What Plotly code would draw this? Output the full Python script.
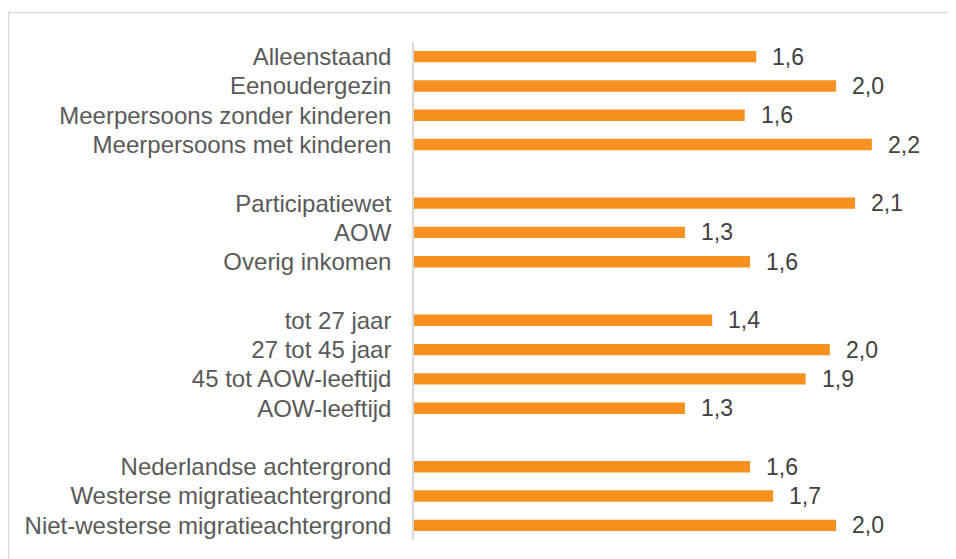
import plotly.graph_objects as go

# Data, grouped as in the picture
groups = [
    ["Alleenstaand", "Eenoudergezin", "Meerpersoons zonder kinderen", "Meerpersoons met kinderen"],
    ["Participatiewet", "AOW", "Overig inkomen"],
    ["tot 27 jaar", "27 tot 45 jaar", "45 tot AOW-leeftijd", "AOW-leeftijd"],
    ["Nederlandse achtergrond", "Westerse migratieachtergrond", "Niet-westerse migratieachtergrond"],
]
group_values = [
    [1.63, 2.01, 1.575, 2.18],
    [2.10, 1.29, 1.60],
    [1.42, 1.98, 1.865, 1.29],
    [1.60, 1.71, 2.01],
]

# Build positions: one empty slot between groups
categories, values, positions = [], [], []
pos = 0
for gi, (cats, vals) in enumerate(zip(groups, group_values)):
    if gi > 0:
        pos += 1
    for c, v in zip(cats, vals):
        categories.append(c)
        values.append(v)
        positions.append(pos)
        pos += 1
n_slots = pos

ORANGE = "#F7901E"
FONT = "Liberation Sans, Arial, sans-serif"

fig = go.Figure()
fig.add_trace(go.Bar(
    x=values, y=positions, orientation="h",
    marker=dict(color=ORANGE, line=dict(width=0)),
    width=0.39, hoverinfo="skip",
))

for v, p in zip(values, positions):
    fig.add_annotation(
        x=v, y=p, xref="x", yref="y",
        text=f"{v:.1f}".replace(".", ","),
        showarrow=False, xanchor="left", yanchor="middle",
        xshift=14, font=dict(family=FONT, size=23, color="#404040"),
    )

# the page body adds an 8px offset; plot area placed accordingly
W, H = 956, 559
ml, mr, mt, mb = 406, 25, 34, 27
xmax = 2.5

fig.update_layout(
    width=W, height=H,
    margin=dict(l=ml, r=mr, t=mt, b=mb, pad=0),
    paper_bgcolor="white", plot_bgcolor="white",
    showlegend=False,
    font=dict(family=FONT, size=24, color="#595959"),
    xaxis=dict(range=[0, xmax], visible=False, fixedrange=True),
    yaxis=dict(
        range=[n_slots - 0.5, -0.5],
        tickmode="array", tickvals=positions, ticktext=categories,
        showgrid=False, zeroline=False,
        showline=True, linecolor="#D9D9D9", linewidth=1.5,
        ticks="", ticklabelstandoff=16,
        tickfont=dict(family=FONT, size=24, color="#595959"),
        fixedrange=True,
    ),
)

# Outer chart border (extends beyond the visible page on right/bottom)
pw = W - ml - mr
ph = H - mt - mb
fig.add_shape(
    type="rect", xref="paper", yref="paper",
    x0=(0.5 - ml) / pw, x1=(W + 30 - ml) / pw,
    y0=-(40) / ph, y1=((H - mb) - 4.5) / ph,
    line=dict(color="#D9D9D9", width=1.5), fillcolor="rgba(0,0,0,0)",
    layer="below",
)

fig.write_html("out.html", config={"displayModeBar": False})
